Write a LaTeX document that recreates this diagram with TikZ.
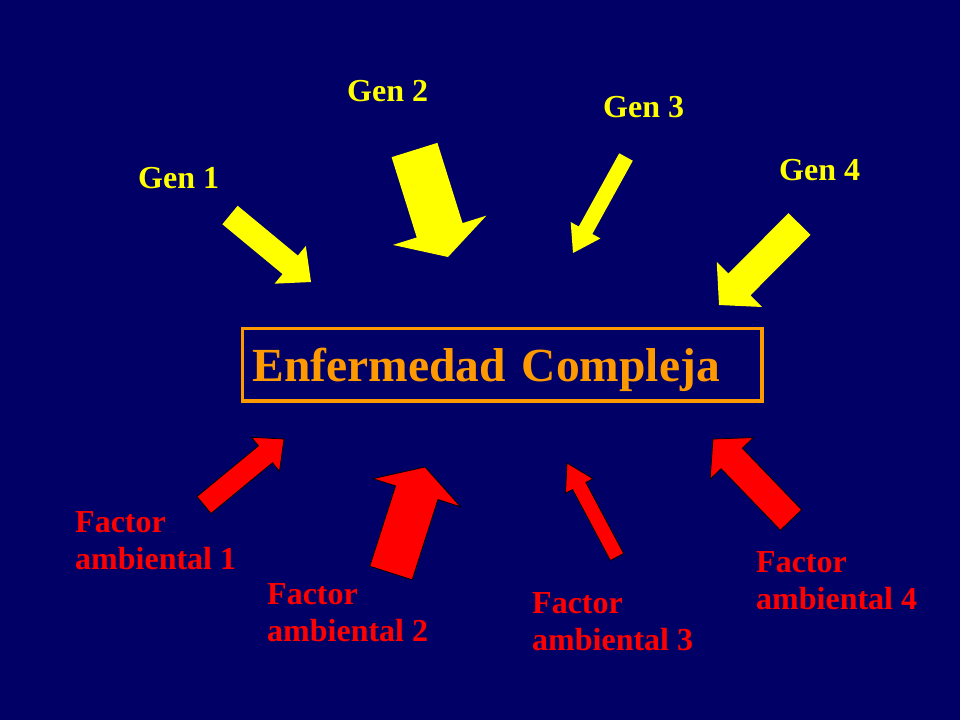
\documentclass[tikz,border=0pt]{standalone}
\usepackage{fontspec}
\setmainfont{Liberation Serif}
\usetikzlibrary{calc}
\definecolor{slideblue}{RGB}{0,0,102}
\definecolor{geneyellow}{RGB}{255,255,0}
\definecolor{envred}{RGB}{255,0,0}
\definecolor{boxorange}{RGB}{255,153,0}
\newcommand{\bigarrow}[6]{%
  \coordinate (hb) at ($(#3)!#6pt!(#2)$);
  \path[#1] ($(#2)!#4pt!90:(#3)$) -- ($(hb)!#4pt!90:(#3)$) -- ($(hb)!#5pt!90:(#3)$) -- (#3)
    -- ($(hb)!#5pt!-90:(#3)$) -- ($(hb)!#4pt!-90:(#3)$) -- ($(#2)!#4pt!-90:(#3)$) -- cycle;}

\begin{document}
\begin{tikzpicture}[x=1pt,y=-1pt,
    gen/.style={fill=geneyellow},
    env/.style={fill=envred,draw=black,line width=0.75pt,line join=miter},
    genlabel/.style={text=geneyellow,font=\fontsize{32}{37}\selectfont\bfseries,anchor=base west,inner sep=0pt},
    envlabel/.style={text=envred,font=\fontsize{32}{37}\selectfont\bfseries,anchor=base west,inner sep=0pt,align=left},
    complexbox/.style={draw=boxorange,line width=3.5pt,text=boxorange,font=\fontsize{47.5}{56}\selectfont\bfseries,
        anchor=base west,inner xsep=10.5pt,inner ysep=4pt,text width=498.5pt,text height=48.5pt,text depth=16pt,align=left}]
    \fill[slideblue] (0,0) rectangle (960,720);

    \node[genlabel] (gen1) at (138,188) {Gen 1};
    \node[genlabel] (gen2) at (347,101) {Gen 2};
    \node[genlabel] (gen3) at (603,117) {Gen 3};
    \node[genlabel] (gen4) at (779,180) {Gen 4};

    \node[complexbox] (cplx) at (240.5,381) {Enfermedad Compleja};

    \node[envlabel] (env1) at (75,569) {Factor\\ambiental 1};
    \node[envlabel] (env2) at (267,641) {Factor\\ambiental 2};
    \node[envlabel] (env3) at (532,650) {Factor\\ambiental 3};
    \node[envlabel] (env4) at (756,609) {Factor\\ambiental 4};

    \coordinate (g1a) at (230,215);   \coordinate (g1b) at (311,282);
    \coordinate (g2a) at (414.5,150); \coordinate (g2b) at (448,257);
    \coordinate (g3a) at (626,157);   \coordinate (g3b) at (573,253);
    \coordinate (g4a) at (799.5,224); \coordinate (g4b) at (719,305);
    \coordinate (e1a) at (204,505);   \coordinate (e1b) at (284,439);
    \coordinate (e2a) at (391,573);   \coordinate (e2b) at (425,467);
    \coordinate (e3a) at (617,557);   \coordinate (e3b) at (567,463);
    \coordinate (e4a) at (791,520);   \coordinate (e4b) at (713,439);

    \bigarrow{gen}{g1a}{g1b}{12}{24.5}{27}
    \bigarrow{gen}{g2a}{g2b}{24}{49}{28}
    \bigarrow{gen}{g3a}{g3b}{7.75}{17}{26}
    \bigarrow{gen}{g4a}{g4b}{15.5}{32}{29}
    \bigarrow{env}{e1a}{e1b}{11}{22}{24}
    \bigarrow{env}{e2a}{e2b}{22.25}{46}{27}
    \bigarrow{env}{e3a}{e3b}{7.5}{15.5}{26}
    \bigarrow{env}{e4a}{e4b}{14.75}{30}{27}
\end{tikzpicture}
\end{document}
